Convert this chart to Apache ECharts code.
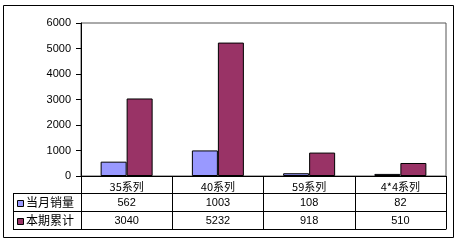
<!DOCTYPE html>
<html><head><meta charset="utf-8">
<script src="https://cdn.jsdelivr.net/npm/echarts@6/dist/echarts.min.js"></script>
<style>html,body{margin:0;padding:0;background:#fff}#c{width:460px;height:244px}</style>
</head><body><div id="c"></div>
<script>
const categories = ['35系列', '40系列', '59系列', '4*4系列'];
const seriesNames = ['当月销量', '本期累计'];
const monthSales = [562, 1003, 108, 82];
const cumulative = [3040, 5232, 918, 510];
const yMin = 0, yMax = 6000, yInterval = 1000;
const colors = ['#9999FF', '#993366'];

// layout
const G = {left: 81, top: 23, right: 14, bottom: 68};
const plotBottom = 244 - G.bottom;
const rowY = [193, 211, 229];
const tableLeft = 13;
const font = 'Arial, "Liberation Sans", "Noto Sans CJK SC", sans-serif';
const cjk = '"Noto Sans CJK SC", sans-serif';

const chart = echarts.init(document.getElementById('c'), null, {renderer: 'canvas'});

function valueAxis(data, offset, showLabel) {
  return {
    type: 'category', data: data.map(String), position: 'bottom', offset: offset,
    axisLine: {show: true, lineStyle: {color: '#000', width: 1}},
    axisTick: {show: false},
    axisLabel: {show: showLabel, margin: 4, fontSize: 11, color: '#000', fontFamily: font, interval: 0}
  };
}

const graphics = [
  {type: 'rect', shape: {x: 3.5, y: 5.5, width: 450, height: 232}, style: {fill: 'none', stroke: '#000', lineWidth: 1}, z: 100},
  {type: 'line', shape: {x1: tableLeft + 0.5, y1: rowY[0], x2: tableLeft + 0.5, y2: rowY[2] + 1}, style: {stroke: '#000', lineWidth: 1}},
];
rowY.forEach(y => graphics.push({type: 'line', shape: {x1: tableLeft, y1: y + 0.5, x2: G.left, y2: y + 0.5}, style: {stroke: '#000', lineWidth: 1}}));
seriesNames.forEach((n, i) => {
  const cy = (rowY[i] + rowY[i + 1]) / 2 + 0.5;
  graphics.push({type: 'rect', shape: {x: 17.5, y: Math.round(cy - 3) + 0.5, width: 6, height: 6}, style: {fill: colors[i], stroke: '#000', lineWidth: 1}});
  graphics.push({type: 'text', x: 26, y: cy, style: {text: n, fontSize: 12, fontFamily: cjk, fill: '#000', verticalAlign: 'middle', align: 'left'}});
});

chart.setOption({
  animation: false,
  backgroundColor: '#fff',
  grid: {left: G.left, top: G.top, right: G.right, bottom: G.bottom, show: true, borderColor: '#555', borderWidth: 1},
  xAxis: [
    {
      type: 'category', data: categories,
      axisLine: {show: true, lineStyle: {color: '#000', width: 1}},
      axisTick: {show: true, length: rowY[2] - plotBottom, lineStyle: {color: '#000'}, interval: 0},
      axisLabel: {margin: 5, fontSize: 11, color: '#000', fontFamily: cjk, interval: 0}
    },
    valueAxis(monthSales, rowY[0] - plotBottom, true),
    valueAxis(cumulative, rowY[1] - plotBottom, true),
    valueAxis(categories, rowY[2] - plotBottom, false)
  ],
  yAxis: {
    type: 'value', min: yMin, max: yMax, interval: yInterval,
    axisLine: {show: true, lineStyle: {color: '#000'}},
    axisTick: {show: true, length: 5, lineStyle: {color: '#000'}},
    axisLabel: {margin: 10, fontSize: 11, color: '#000', fontFamily: font, formatter: v => String(v)},
    splitLine: {show: false}
  },
  series: [
    {name: seriesNames[0], type: 'bar', data: monthSales, barWidth: 26, barGap: '0%', itemStyle: {color: colors[0], borderColor: '#000', borderWidth: 1}},
    {name: seriesNames[1], type: 'bar', data: cumulative, barWidth: 26, barGap: '0%', itemStyle: {color: colors[1], borderColor: '#000', borderWidth: 1}}
  ],
  graphic: graphics
});
</script></body></html>
